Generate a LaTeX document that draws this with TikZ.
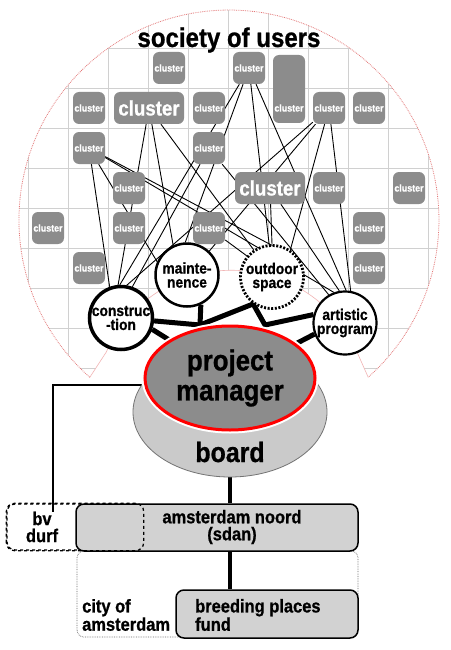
\documentclass[tikz,border=0pt]{standalone}
\usepackage{fontspec}
\newfontfamily\cf{Liberation Sans}[FakeStretch=0.89, FakeBold=0.8]
\usetikzlibrary{shapes.geometric}
\pgfdeclarelayer{gridlayer}
\pgfdeclarelayer{wires}
\pgfsetlayers{gridlayer,wires,main}
\definecolor{clgray}{RGB}{140,140,140}
\definecolor{pmgray}{RGB}{140,140,140}
\definecolor{bdgray}{RGB}{202,202,202}
\definecolor{sgray}{RGB}{210,210,210}
\definecolor{gridc}{RGB}{208,208,208}
\definecolor{pinkc}{RGB}{228,120,120}
\definecolor{pinkl}{RGB}{242,180,180}
\newcommand\fsz[2]{\fontsize{#1}{#2}\selectfont}
\begin{document}
\begin{tikzpicture}[x=1pt,y=-1pt,
  clus/.style={rounded corners=6pt, fill=clgray, minimum width=32pt, minimum height=32pt, inner sep=0pt, text=white, font=\cf\bfseries\fsz{10}{10}},
  bigclus/.style={clus, minimum width=70pt, font=\cf\bfseries\fsz{21}{20}},
  cltxt/.style={text=white, inner sep=0pt, font=\cf\bfseries\fsz{10}{10}},
  role/.style={circle, draw, fill=white, minimum size=63pt, inner sep=0pt, align=center, font=\cf\bfseries\fsz{15.5}{14}},
  wire/.style={line width=0.9pt},
  trunk/.style={line width=5pt},
  boxtxt/.style={inner sep=0pt, font=\cf\bfseries\fsz{18.5}{17}},
  gbox/.style={rounded corners=8pt, fill=sgray, draw, line width=1.5pt}
]
\useasboundingbox (0,0) rectangle (450,650);
\begin{pgfonlayer}{gridlayer}
  \fill[white] (0,0) rectangle (450,650);
  \begin{scope}
    \clip (89.8,377.3) arc[start angle=131.5, end angle=408.5, radius=210] -- (357,352) arc[start angle=-23.8, end angle=-156.2, radius=137] -- cycle;
    \foreach \gx in {28,68,...,428} \draw[gridc, line width=0.6pt] (\gx,0) -- (\gx,420);
    \foreach \gy in {8,48,...,368} \draw[gridc, line width=0.6pt] (0,\gy) -- (450,\gy);
  \end{scope}
  \draw[pinkc, densely dotted, line width=0.8pt] (89.8,377.3) arc[start angle=131.5, end angle=408.5, radius=210];
  \draw[pinkl, line width=0.6pt] (368.2,377.3) -- (357,352) arc[start angle=-23.8, end angle=-156.2, radius=137] -- (89.8,377.3);
\end{pgfonlayer}

% title
\node[font=\cf\bfseries\fsz{27}{27}, inner sep=0pt] (title) at (229,40) {society of users};

% clusters
\node[clus] (c1) at (169,68) {cluster};
\node[clus] (c2) at (249,68) {cluster};
\node[clus, minimum height=68pt] (c3) at (289,89) {};
\node[cltxt] (c3t) at (289,108) {cluster};
\node[clus] (c4) at (89,108) {cluster};
\node[bigclus] (c5) at (149,108) {cluster};
\node[clus] (c6) at (209,108) {cluster};
\node[clus] (c7) at (329,108) {cluster};
\node[clus] (c8) at (369,108) {cluster};
\node[clus] (c9) at (89,148) {cluster};
\node[clus] (c10) at (209,148) {cluster};
\node[clus] (c11) at (129,188) {cluster};
\node[bigclus] (c12) at (270,188) {cluster};
\node[clus] (c13) at (329,188) {cluster};
\node[clus] (c14) at (409,188) {cluster};
\node[clus] (c15) at (48,228) {cluster};
\node[clus] (c16) at (129,228) {cluster};
\node[clus] (c17) at (209,228) {cluster};
\node[clus] (c18) at (369,228) {cluster};
\node[clus] (c19) at (89,268) {cluster};
\node[clus] (c20) at (369,268) {cluster};

% role circles
\node[role, line width=3.5pt] (con) at (121,318) {construc\\-tion};
\node[role, line width=2.5pt] (mai) at (187,275) {mainte-\\nence};
\node[role, line width=2.8pt, dash pattern=on 2pt off 1.6pt] (out) at (272,277) {outdoor\\space};
\node[role, line width=2.2pt] (art) at (345,323) {artistic\\program};

% board and project manager
\node[ellipse, minimum width=194pt, minimum height=130pt, fill=bdgray, draw=black!55, line width=0.8pt] (board) at (230,412) {};
\node[ellipse, minimum width=170pt, minimum height=104pt, inner sep=0pt, fill=pmgray, draw=red, line width=3pt, preaction={draw=white, line width=7pt}, align=center, font=\cf\bfseries\fsz{29}{30}] (pm) at (230,378) {project\\manager};
\node[font=\cf\bfseries\fsz{28}{28}, inner sep=0pt] (boardtxt) at (230,452) {board};

% bottom boxes
\node[draw, dashed, rounded corners=8pt, line width=1.3pt, minimum width=136pt, minimum height=46pt] (bv) at (75,527) {};
\node[draw=black!60, densely dotted, rounded corners=7pt, line width=0.7pt, minimum width=281pt, minimum height=86pt] (city) at (217.5,594) {};
\node[gbox, minimum width=282pt, minimum height=47pt] (sdan) at (217,527.5) {};
\draw[dashed, rounded corners=8pt, line width=1.3pt] (bv.south west) rectangle (bv.north east);
\node[gbox, minimum width=182pt, minimum height=48pt] (fund) at (267,614) {};
\node[boxtxt, align=center] (bvtxt) at (42,527) {bv\\durf};
\node[boxtxt, align=center] (sdantxt) at (232,527) {amsterdam noord\\(sdan)};
\node[boxtxt, align=left, anchor=west] (citytxt) at (82,615) {city of\\amsterdam};
\node[boxtxt, align=left, anchor=west] (fundtxt) at (195,615) {breeding places\\fund};

\coordinate (j1) at (200,325);
\coordinate (j2) at (265,325);
\coordinate (bend) at (53,385);
\coordinate (bvtip) at (53,512);

\begin{pgfonlayer}{wires}
  \foreach \s/\t in {c2/con.92, c2/mai.93, c2/out.95, c2/art.88,
                     c5/con.95, c5/mai.115, c5/out.124,
                     c9/con.110, c9/mai.156, c9/out.30, c9/art.110,
                     c7/con.80, c7/mai.47, c7/out.56, c7/art.80,
                     c10/con.70, c10/art.120, c12/out.90, c12/art.100, c17/out.140}
    \draw[wire] (\s) -- (\t);
  \draw[trunk] (con.355) -- (j1);
  \draw[trunk] (mai.295) -- (j1);
  \draw[trunk] (j1) -- (out.235) -- (j2) -- (art.165);
  \draw[trunk] (con.340) -- (pm.center);
  \draw[trunk] (art.200) -- (pm.center);
  \draw[line width=1.2pt] (board.center |- bend) -- (bend) -- (bvtip);
  \draw[line width=4pt] (board.south) -- (board.south |- sdan.north);
  \draw[line width=4pt] (board.south |- sdan.south) -- (board.south |- fund.north);
\end{pgfonlayer}
\end{tikzpicture}
\end{document}
